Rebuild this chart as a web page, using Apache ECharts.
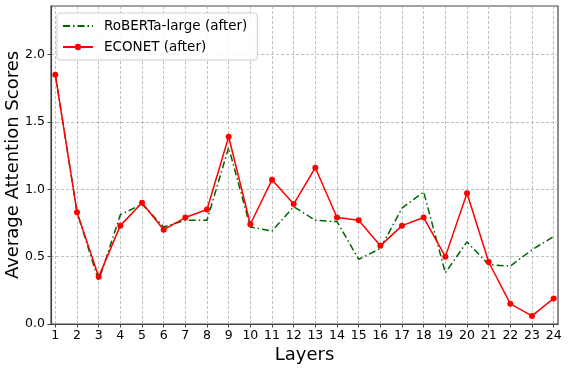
<!DOCTYPE html>
<html>
<head>
<meta charset="utf-8">
<script src="https://cdn.jsdelivr.net/npm/echarts@6/dist/echarts.min.js"></script>
<style>
  html, body { margin: 0; padding: 0; background: #fff; }
  #chart { width: 568px; height: 369px; }
</style>
</head>
<body>
<div id="chart"></div>
<script>
// layers 1..24
var layers = [1, 2, 3, 4, 5, 6, 7, 8, 9, 10, 11, 12, 13, 14, 15, 16, 17, 18, 19, 20, 21, 22, 23, 24];
var robertaAfter = [1.85, 0.83, 0.32, 0.81, 0.89, 0.72, 0.77, 0.77, 1.31, 0.72, 0.69, 0.87,
    0.77, 0.76, 0.48, 0.56, 0.86, 0.98, 0.38, 0.61, 0.44, 0.43, 0.55, 0.65];
var econetAfter = [1.85, 0.83, 0.35, 0.73, 0.90, 0.70, 0.79, 0.85, 1.39, 0.74, 1.07, 0.89,
    1.16, 0.79, 0.77, 0.58, 0.73, 0.79, 0.50, 0.97, 0.46, 0.15, 0.06, 0.19];
var yTicks = [0, 0.5, 1.0, 1.5, 2.0];

var font = 'DejaVu Sans';

function pairs(vals) {
    return layers.map(function (l, i) { return [l, vals[i]]; });
}

var chart = echarts.init(document.getElementById('chart'));

var option = {
    animation: false,
    textStyle: { fontFamily: font },
    grid: {
        left: 51, right: 10, top: 6, bottom: 45,
        show: true,
        borderColor: '#444',
        borderWidth: 1.2,
        containLabel: false,
        outerBoundsMode: 'none'
    },
    legend: {
        orient: 'vertical',
        left: 57,
        top: 13,
        itemWidth: 30,
        itemHeight: 8,
        itemGap: 7,
        padding: [6, 10, 6, 5],
        backgroundColor: 'rgba(255,255,255,0.85)',
        borderColor: '#cccccc',
        borderWidth: 1,
        borderRadius: 3,
        textStyle: { fontFamily: font, fontSize: 13.5, color: '#000', padding: [0, 0, 0, 6] },
        data: [
            {
                name: 'RoBERTa-large (after)',
                itemStyle: { color: 'rgba(0,0,0,0)', borderColor: 'rgba(0,0,0,0)', borderWidth: 0 }
            },
            'ECONET (after)'
        ]
    },
    xAxis: {
        type: 'value',
        min: 0.8,
        max: 24.2,
        name: 'Layers',
        nameLocation: 'middle',
        nameGap: 22,
        nameMoveOverlap: false,
        nameTextStyle: { fontFamily: font, fontSize: 18, color: '#000' },
        axisLine: { show: true, lineStyle: { color: '#444', width: 1.2 } },
        axisTick: { show: true, length: 3.5, lineStyle: { color: '#444' }, customValues: layers },
        axisLabel: { fontFamily: font, fontSize: 12.5, color: '#000', margin: 5, customValues: layers },
        splitLine: { show: true, lineStyle: { color: '#b0b0b0', type: [3, 2], width: 0.8 } }
    },
    yAxis: {
        type: 'value',
        min: 0,
        max: 2.36,
        name: 'Average Attention Scores',
        nameLocation: 'middle',
        nameGap: 29,
        nameMoveOverlap: false,
        nameTextStyle: { fontFamily: font, fontSize: 18, color: '#000' },
        axisLine: { show: true, lineStyle: { color: '#444', width: 1.2 } },
        axisTick: { show: true, length: 3.5, lineStyle: { color: '#444' }, customValues: yTicks },
        axisLabel: {
            fontFamily: font, fontSize: 12.5, color: '#000', margin: 6,
            customValues: yTicks,
            formatter: function (v) { return v.toFixed(1); }
        },
        splitLine: { show: true, lineStyle: { color: '#b0b0b0', type: [3, 2], width: 0.8 } }
    },
    series: [
        {
            name: 'RoBERTa-large (after)',
            type: 'line',
            data: pairs(robertaAfter),
            symbol: 'none',
            itemStyle: { color: '#006400' },
            lineStyle: { color: '#006400', width: 1.5, type: [7, 3, 1.5, 3] },
            z: 2
        },
        {
            name: 'ECONET (after)',
            type: 'line',
            data: pairs(econetAfter),
            symbol: 'circle',
            symbolSize: 6,
            itemStyle: { color: '#ff0000' },
            lineStyle: { color: '#ff0000', width: 1.5 },
            z: 3
        }
    ]
};

chart.setOption(option);
</script>
</body>
</html>
